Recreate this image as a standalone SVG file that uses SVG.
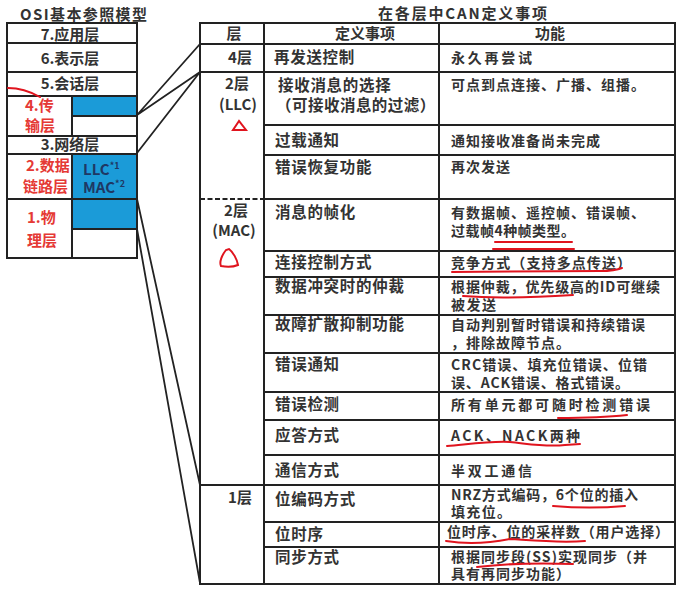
<svg xmlns="http://www.w3.org/2000/svg" width="681" height="590" viewBox="0 0 681 590">
<style>
text{font-family:"Noto Sans CJK SC","Noto Sans",sans-serif;font-weight:bold;fill:#333}
.t{font-size:15px}
.c2{font-size:15.5px;letter-spacing:0.7px}
.c3{font-size:14px}
.red{fill:#e53935}
.navy{fill:#1f3864}
.ln{stroke:#222;stroke-width:2;fill:none}
.cn{stroke:#222;stroke-width:1.8;fill:none}
.blue{fill:#1b9bd8}
.mk{stroke:#e0141e;stroke-width:2;fill:none;stroke-linecap:round}
</style>
<rect width="681" height="590" fill="#fff"/>

<g id="osi-model">
  <text x="20" y="20" class="t" textLength="127" font-weight="normal">OSI基本参照模型</text>
  <rect class="blue" x="72" y="96" width="65" height="20"/>
  <rect class="blue" x="72" y="154" width="65" height="45"/>
  <rect class="blue" x="72" y="199" width="65" height="30"/>
  <rect class="ln" x="7" y="23" width="130" height="235"/>
  <path class="ln" d="M7,43H137M7,72H137M7,96H137M7,136H137M7,154H137M7,199H137M72,96V136M72,154V258M72,116H137M72,229H137"/>
  <g id="l7"><text x="70" y="40" class="t" text-anchor="middle">7.应用层</text></g>
  <g id="l6"><text x="70" y="64" class="t" text-anchor="middle">6.表示层</text></g>
  <g id="l5"><text x="70" y="89" class="t" text-anchor="middle">5.会话层</text></g>
  <g id="l4"><text class="t red"><tspan x="25" y="111">4.传</tspan><tspan x="25" y="131">输层</tspan></text></g>
  <g id="l3"><text x="70" y="150" class="t" text-anchor="middle">3.网络层</text></g>
  <g id="l2"><text class="t red"><tspan x="26" y="171">2.数据</tspan><tspan x="23" y="192">链路层</tspan></text>
    <text class="t navy"><tspan x="83" y="175">LLC</tspan><tspan font-size="9" dy="-6">*1</tspan><tspan x="83" y="193">MAC</tspan><tspan font-size="9" dy="-6">*2</tspan></text></g>
  <g id="l1"><text class="t red"><tspan x="27" y="223">1.物</tspan><tspan x="27" y="246">理层</tspan></text></g>
</g>

<g id="connectors">
  <path class="cn" d="M137,115L200,44M137,115L200,72M137,153L200,72M137,199L200,485M137,229L200,583"/>
</g>

<g id="can-table">
  <text x="378" y="19" class="t" textLength="169">在各层中CAN定义事项</text>
  <rect class="ln" x="200" y="23" width="475" height="561"/>
  <path class="ln" d="M200,44H675M200,72H675M264,125H675M264,155H675M264,251H675M264,277H675M264,315H675M264,353H675M264,392H675M264,420H675M264,455H675M200,485H675M264,522H675M264,547H675M264,23V584M439,23V584M264,199H675"/>
  <path d="M200,199H264" stroke="#222" stroke-width="2" stroke-dasharray="5,2.5"/>
  <g id="hdr">
    <text x="234" y="39" class="t" text-anchor="middle">层</text>
    <text x="365" y="39" class="t" text-anchor="middle">定义事项</text>
    <text x="550" y="39" class="t" text-anchor="middle">功能</text>
  </g>
  <g id="layer4">
    <text x="240" y="63" class="t" text-anchor="middle">4层</text>
    <text x="274" y="63" class="c2">再发送控制</text>
    <text x="451" y="63" class="c3" font-size="15.5" textLength="81">永久再尝试</text>
  </g>
  <g id="layer2-llc">
    <text class="t" text-anchor="middle"><tspan x="237" y="89">2层</tspan><tspan x="238" y="110">(LLC)</tspan></text>
    <text class="c2"><tspan x="278" y="91">接收消息的选择</tspan><tspan x="276" y="111" textLength="160">（可接收消息的过滤）</tspan></text>
    <text x="451" y="90" class="c3" textLength="194">可点到点连接、广播、组播。</text>
    <text x="275" y="146" class="c2">过载通知</text>
    <text x="451" y="146" class="c3" textLength="149">通知接收准备尚未完成</text>
    <text x="275" y="173" class="c2">错误恢复功能</text>
    <text x="451" y="172" class="c3" textLength="59">再次发送</text>
  </g>
  <g id="layer2-mac">
    <text class="t" text-anchor="middle"><tspan x="236" y="216">2层</tspan><tspan x="234" y="236">(MAC)</tspan></text>
    <text x="275" y="218" class="c2">消息的帧化</text>
    <text class="c3"><tspan x="451" y="218" textLength="194">有数据帧、遥控帧、错误帧、</tspan><tspan x="451" y="236" textLength="124">过载帧4种帧类型。</tspan></text>
    <text x="275" y="268" class="c2">连接控制方式</text>
    <text x="451" y="268" class="c3" textLength="180">竞争方式（支持多点传送）</text>
    <text x="275" y="292" class="c2">数据冲突时的仲裁</text>
    <text class="c3"><tspan x="451" y="292" textLength="209">根据仲裁，优先级高的ID可继续</tspan><tspan x="451" y="310" textLength="45">被发送</tspan></text>
    <text x="275" y="330" class="c2">故障扩散抑制功能</text>
    <text class="c3"><tspan x="451" y="330" textLength="194">自动判别暂时错误和持续错误</tspan><tspan x="451" y="348" textLength="119">，排除故障节点。</tspan></text>
    <text x="275" y="370" class="c2">错误通知</text>
    <text class="c3"><tspan x="451" y="370" textLength="196">CRC错误、填充位错误、位错</tspan><tspan x="451" y="388" textLength="178">误、ACK错误、格式错误。</tspan></text>
    <text x="275" y="410" class="c2">错误检测</text>
    <text x="451" y="410" class="c3" font-size="16.5" textLength="199">所有单元都可随时检测错误</text>
    <text x="275" y="441" class="c2">应答方式</text>
    <text x="451" y="441" class="c3" font-size="18.5" textLength="129">ACK、NACK两种</text>
    <text x="275" y="476" class="c2">通信方式</text>
    <text x="451" y="476" class="c3" font-size="15.5" textLength="81">半双工通信</text>
  </g>
  <g id="layer1">
    <text x="240" y="503" class="t" text-anchor="middle">1层</text>
    <text x="275" y="505" class="c2">位编码方式</text>
    <text class="c3"><tspan x="451" y="500" textLength="187">NRZ方式编码，6个位的插入</tspan><tspan x="451" y="517" textLength="60">填充位。</tspan></text>
    <text x="275" y="540" class="c2">位时序</text>
    <text x="447" y="537" class="c3" textLength="222">位时序、位的采样数（用户选择）</text>
    <text x="275" y="563" class="c2">同步方式</text>
    <text class="c3"><tspan x="451" y="562" textLength="196">根据同步段(SS)实现同步（并</tspan><tspan x="451" y="579" textLength="119">具有再同步功能）</tspan></text>
  </g>
</g>

<g id="annotations">
  <path class="mk" d="M8,88Q24,88 40,97"/>
  <path class="mk" stroke-width="2.5" d="M239,121L233,130L246,130Z"/>
  <path class="mk" stroke-width="2.5" d="M226,250C222,255 219,262 221,266C226,267 233,267 238,265C237,259 233,252 229,249Z"/>
  <path class="mk" d="M495,242H572M493,249H574"/>
  <path class="mk" d="M452,272L600,271Q615,271 622,268"/>
  <path class="mk" d="M463,296C500,299 540,297 573,295"/>
  <path class="mk" d="M558,418Q600,418 627,415"/>
  <path class="mk" d="M447,446C470,444 490,441 510,442C530,444 545,447 565,445L580,444"/>
  <path class="mk" d="M553,506Q590,509 625,506"/>
  <path class="mk" d="M446,541C470,545 490,543 510,539C540,541 560,543 585,541"/>
  <path class="mk" d="M477,567Q520,562 573,564"/>
</g>
</svg>
